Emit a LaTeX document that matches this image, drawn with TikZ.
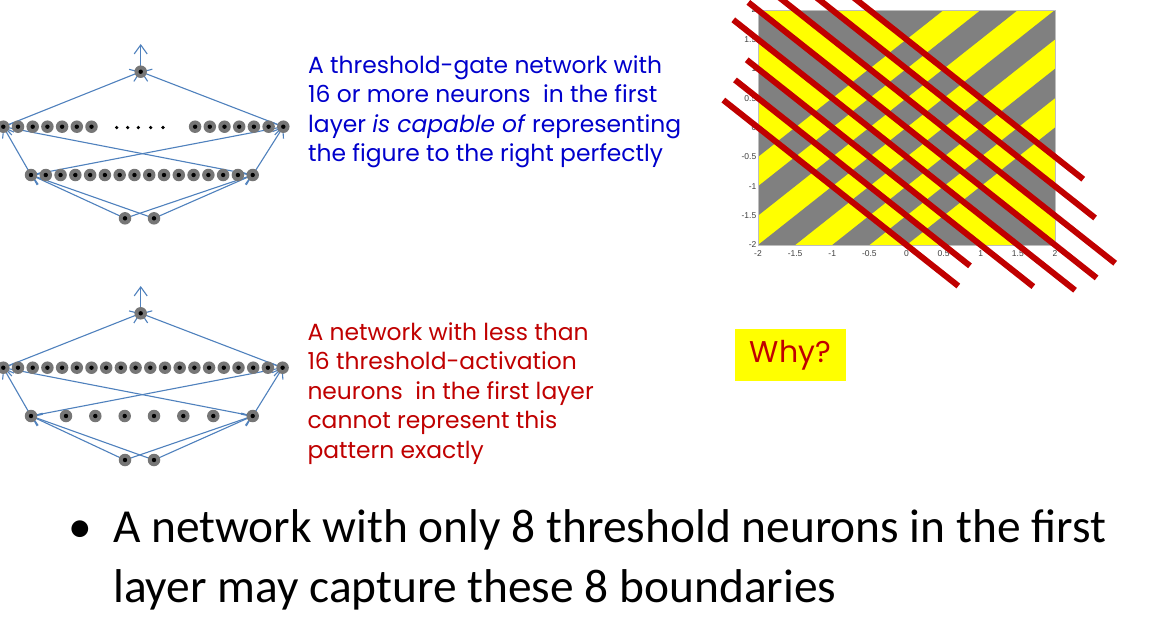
\documentclass[tikz,border=0pt]{standalone}
\usepackage{fontspec}
\setmainfont{Carlito}
\newfontfamily\notefont{Poppins}
\newfontfamily\axisfont{Liberation Sans}
\usetikzlibrary{arrows.meta}
\definecolor{netblue}{RGB}{79,129,189}
\definecolor{noteblue}{RGB}{0,0,204}
\definecolor{notered}{RGB}{192,0,0}
\definecolor{plotgray}{RGB}{128,128,128}
\definecolor{plotyellow}{RGB}{255,255,0}
\definecolor{ticktext}{RGB}{64,64,64}
\definecolor{cellgray}{RGB}{118,118,118}
\pgfdeclarelayer{bg}
\pgfdeclarelayer{edges}
\pgfsetlayers{bg,edges,main}
\begin{document}
\begin{tikzpicture}[x=1pt,y=-1pt,
  neuron/.style={circle, fill=cellgray, minimum size=12.5pt, inner sep=0pt,
    path picture={\fill[black] (path picture bounding box.center) circle (2.2pt);}},
  ellipsisdot/.style={circle, fill=black, minimum size=3.6pt, inner sep=0pt},
  link/.style={draw=netblue, line width=1.1pt, -{Straight Barb[length=9pt,width=13pt]}},
  redline/.style={draw=notered, line width=6pt},
  tick/.style={font=\axisfont\fontsize{8.5}{10}\selectfont, text=ticktext, inner sep=1.5pt},
  bluenote/.style={anchor=base west, inner sep=0pt, text=noteblue, font=\notefont\fontsize{23.4}{28}\selectfont},
  rednote/.style={anchor=base west, inner sep=0pt, text=notered, font=\notefont\fontsize{23.4}{28}\selectfont},
  bullettext/.style={anchor=base west, inner sep=0pt, text=black, font=\fontsize{47.4}{56}\selectfont}]
\useasboundingbox (0,0) rectangle (1150,627);
\clip (0,0) rectangle (1150,627);
\begin{pgfonlayer}{bg}
  \fill[white] (0,0) rectangle (1150,627);
\end{pgfonlayer}

% ---------- upper network: 2 inputs, 16 first-layer units ----------
\node[neuron] (tout) at (140.7,71.7) {};
\coordinate (tup) at (140.7,44);
\foreach \k in {1,...,7} \node[neuron] (tl\k) at ({3.3+14.7*(\k-1)},126.7) {};
\foreach \k in {1,...,7} \node[neuron] (tr\k) at ({283.3-14.7*(7-\k)},126.7) {};
\foreach \x [count=\k] in {116.7,127.7,138.3,150.7,163} \node[ellipsisdot] (td\k) at (\x,127.5) {};
\foreach \k in {1,...,16} \node[neuron] (th\k) at ({31+14.78*(\k-1)},175) {};
\node[neuron] (tin1) at (125,218.3) {};
\node[neuron] (tin2) at (154,218.3) {};
\begin{pgfonlayer}{edges}
  \draw[link] (tout.center) -- (tup);
  \draw[link] (tl1.center) -- (tout.center);
  \draw[link] (tr7.center) -- (tout.center);
  \draw[link] (th1.center) -- (tl1.center);
  \draw[link] (th1.center) -- (tr7.center);
  \draw[link] (th16.center) -- (tl1.center);
  \draw[link] (th16.center) -- (tr7.center);
  \draw[link] (tin1.center) -- (th1.center);
  \draw[link] (tin2.center) -- (th1.center);
  \draw[link] (tin1.center) -- (th16.center);
  \draw[link] (tin2.center) -- (th16.center);
\end{pgfonlayer}

% ---------- lower network: 2 inputs, 8 first-layer units ----------
\node[neuron] (bout) at (140.7,313.3) {};
\coordinate (bup) at (140.7,286);
\foreach \k in {1,...,20} \node[neuron] (bl\k) at ({3.3+14.7*(\k-1)},367.7) {};
\foreach \x [count=\k] in {31,66,95.3,124.7,154,183.3,213.3,252.7} \node[neuron] (bh\k) at (\x,416) {};
\node[neuron] (bin1) at (125,460) {};
\node[neuron] (bin2) at (154,460) {};
\begin{pgfonlayer}{edges}
  \draw[link] (bout.center) -- (bup);
  \draw[link] (bl1.center) -- (bout.center);
  \draw[link] (bl20.center) -- (bout.center);
  \draw[link] (bh1.center) -- (bl1.center);
  \draw[link] (bh1.center) -- (bl20.center);
  \draw[link] (bh8.center) -- (bl1.center);
  \draw[link] (bh8.center) -- (bl20.center);
  \draw[link] (bin1.center) -- (bh1.center);
  \draw[link] (bin2.center) -- (bh1.center);
  \draw[link] (bin1.center) -- (bh8.center);
  \draw[link] (bin2.center) -- (bh8.center);
\end{pgfonlayer}

% ---------- notes ----------
\node[bluenote] (n1) at (308,73.3) {A threshold-gate network with};
\node[bluenote] (n2) at (308,102.7) {16 or more neurons\ \ in the first};
\node[bluenote] (n3) at (308,132.1) {layer \textit{is capable of} representing};
\node[bluenote] (n4) at (308,161.5) {the figure to the right perfectly};

\node[rednote] (m1) at (307.3,340) {A network with less than};
\node[rednote] (m2) at (307.3,369.6) {16 threshold-activation};
\node[rednote] (m3) at (307.3,399.2) {neurons\ \ in the first layer};
\node[rednote] (m4) at (307.3,428.8) {cannot represent this};
\node[rednote] (m5) at (307.3,458.4) {pattern exactly};

\node[fill=plotyellow, minimum width=111pt, minimum height=52pt, inner sep=0pt,
      text=notered, font=\notefont\fontsize{30}{34}\selectfont] (why) at (790.5,355.2) {Why?};

% ---------- decision regions in the (x,y) plane ----------
% cells are bounded by the lines x+y=c and y-x=c, c in {-2,-1.5,...,1.5}
\def\uedges{{-4,-2,-1.5,-1,-0.5,0,0.5,1,1.5,4}}
\def\vedges{{-4,-1.5,-1,-0.5,0,0.5,1,1.5,2,4}}
\begin{scope}[shift={(906.5pt,-127.5pt)}, x=74.25pt, y=58.75pt]
  \begin{scope}
    \clip (-2,-2) rectangle (2,2);
    \fill[plotyellow] (-2,-2) rectangle (2,2);
    \foreach \i in {0,...,8}{
      \foreach \j in {0,...,8}{
        \pgfmathtruncatemacro\cellpar{mod(\i+\j,2)}
        \ifnum\cellpar=0
          \pgfmathsetmacro\ua{\uedges[\i]}
          \pgfmathsetmacro\ub{\uedges[\i+1]}
          \pgfmathsetmacro\va{\vedges[\j]}
          \pgfmathsetmacro\vb{\vedges[\j+1]}
          \fill[plotgray] ({(\ua+\va)/2},{(\ua-\va)/2}) -- ({(\ub+\va)/2},{(\ub-\va)/2})
            -- ({(\ub+\vb)/2},{(\ub-\vb)/2}) -- ({(\ua+\vb)/2},{(\ua-\vb)/2}) -- cycle;
        \fi
      }
    }
  \end{scope}
  \draw[draw={rgb,255:red,190;green,190;blue,190}, line width=0.6pt] (-2,-2) rectangle (2,2);
  \foreach \t [count=\n] in {-2,-1.5,-1,-0.5,0,0.5,1,1.5,2}{
    \node[tick, anchor=east] (ytick\n) at (-2,\t) {\t};
    \node[tick, anchor=north, yshift=-3.5pt] (xtick\n) at (\t,-2) {\t};
  }
  % the eight boundaries x+y=c
  \foreach \c/\s/\e in {-2/-2.467/0.698, -1.5/-2.31/0.855, -1/-2.152/1.708, -0.5/-2.333/2.27,
                        0/-2.13/2.56, 0.5/-1.8/2.81, 1/-1.4/2.54, 1.5/-1.0/2.38}
    \draw[redline] (\s,{\c-\s}) -- (\e,{\c-\e});
\end{scope}

% ---------- bullet ----------
\node[bullettext] (bul) at (68,542) {\textbullet};
\node[bullettext] (t1) at (113,542) {A network with only 8 threshold neurons in the first};
\node[bullettext] (t2) at (113,602) {layer may capture these 8 boundaries};
\end{tikzpicture}
\end{document}
